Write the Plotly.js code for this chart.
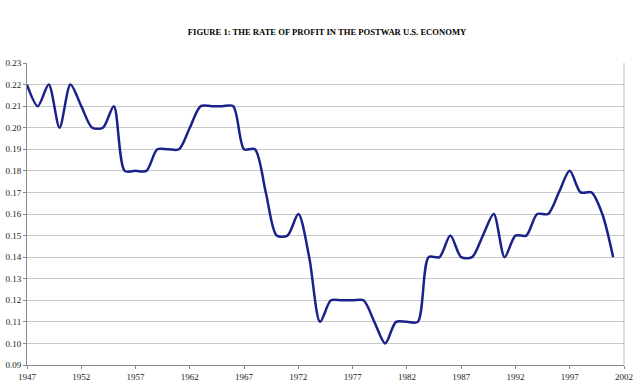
<!DOCTYPE html>
<html>
<head>
<meta charset="utf-8">
<script src="https://cdn.plot.ly/plotly-3.0.1.min.js"></script>
<style>html,body{margin:0;padding:0;background:#fff;}#chart{width:640px;height:391px;}</style>
</head>
<body>
<div id="chart"></div>
<script>
const years = [1947,1948,1949,1950,1951,1952,1953,1954,1955,1956,1957,1958,1959,1960,1961,1962,1963,1964,1965,1966,1967,1968,1969,1970,1971,1972,1973,1974,1975,1976,1977,1978,1979,1980,1981,1982,1983,1984,1985,1986,1987,1988,1989,1990,1991,1992,1993,1994,1995,1996,1997,1998,1999,2000,2001];
const profitRate = [0.22,0.21,0.22,0.20,0.22,0.21,0.20,0.20,0.21,0.18,0.18,0.18,0.19,0.19,0.19,0.20,0.21,0.21,0.21,0.21,0.19,0.19,0.17,0.15,0.15,0.16,0.14,0.11,0.12,0.12,0.12,0.12,0.11,0.10,0.11,0.11,0.11,0.14,0.14,0.15,0.14,0.14,0.15,0.16,0.14,0.15,0.15,0.16,0.16,0.17,0.18,0.17,0.17,0.16,0.14];
const xTicks = [1947,1952,1957,1962,1967,1972,1977,1982,1987,1992,1997,2002];
const yTicks = [0.09,0.10,0.11,0.12,0.13,0.14,0.15,0.16,0.17,0.18,0.19,0.20,0.21,0.22,0.23];

Plotly.newPlot('chart', [{
  x: years, y: profitRate, type: 'scatter', mode: 'lines',
  line: {color: '#1a2188', width: 2.5, shape: 'spline', smoothing: 0.8}
}], {
  width: 640, height: 391,
  margin: {l: 27, r: 16, t: 63, b: 26},
  paper_bgcolor: '#fff', plot_bgcolor: '#fff',
  showlegend: false,
  title: {text: '<b>FIGURE 1: THE RATE OF PROFIT IN THE POSTWAR U.S. ECONOMY</b>',
          font: {family: 'Liberation Serif', size: 8.6, color: '#000'},
          x: 0.511, xanchor: 'center', y: 0.918, yanchor: 'middle'},
  xaxis: {range: [1947, 2002], tickvals: xTicks, ticktext: xTicks.map(String),
          showgrid: false, zeroline: false, showline: true, linecolor: '#888', linewidth: 1,
          ticks: 'outside', ticklen: 3, tickcolor: '#888',
          tickfont: {family: 'Liberation Serif', size: 9, color: '#222'}, mirror: false},
  yaxis: {range: [0.09, 0.23], tickvals: yTicks, tickformat: '.2f',
          showgrid: true, gridcolor: '#c8c8c8', gridwidth: 1, zeroline: false,
          showline: true, linecolor: '#888', linewidth: 1,
          ticks: 'outside', ticklen: 3, tickcolor: '#888',
          tickfont: {family: 'Liberation Serif', size: 9, color: '#222'}},
  shapes: [{type: 'line', xref: 'paper', yref: 'paper', x0: 1, x1: 1, y0: 0, y1: 1,
            line: {color: '#bbb', width: 1}}]
}, {displayModeBar: false, staticPlot: true});
</script>
</body>
</html>
